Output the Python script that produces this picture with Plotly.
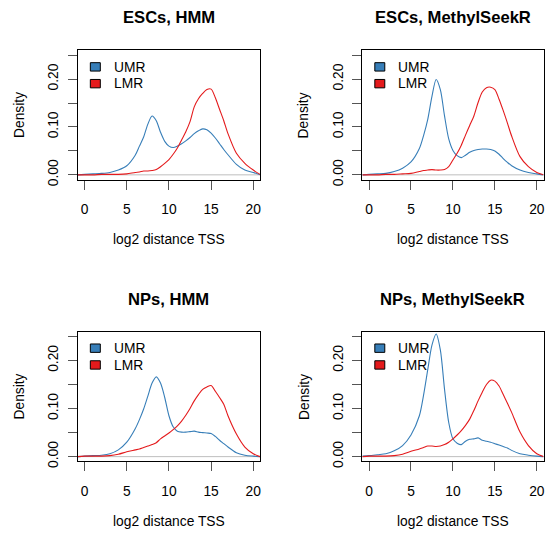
import plotly.graph_objects as go

W, H = 548, 539

panel_titles = ["ESCs, HMM", "ESCs, MethylSeekR", "NPs, HMM", "NPs, MethylSeekR"]
series_names = ["UMR", "LMR"]
series_colors = ["#377EB8", "#E41A1C"]
x_label = "log2 distance TSS"
y_label = "Density"

x_tick_vals = [0, 5, 10, 15, 20]
y_tick_vals = [0, 0.05, 0.10, 0.15, 0.20, 0.25]
y_tick_text = ["0.00", "", "0.10", "", "0.20", ""]

# log2 distance grid (read positions)
dist = [-0.8, 0, 1, 2, 3, 4, 5, 6, 6.5, 7, 7.5, 8, 8.5, 9, 9.5, 10, 10.5, 11, 11.5,
        12, 12.5, 13, 13.5, 14, 14.5, 15, 15.5, 16, 16.5, 17, 18, 19, 20, 20.8]

esc_hmm_umr = [0.000, 0.001, 0.002, 0.003, 0.005, 0.010, 0.019, 0.041, 0.060, 0.079, 0.106, 0.123,
               0.113, 0.089, 0.070, 0.060, 0.057, 0.060, 0.065, 0.071, 0.078, 0.086, 0.092, 0.096,
               0.094, 0.087, 0.077, 0.065, 0.053, 0.042, 0.022, 0.010, 0.005, 0.000]
esc_hmm_lmr = [0.000, 0.000, 0.000, 0.001, 0.001, 0.001, 0.002, 0.005, 0.006, 0.008, 0.008, 0.009,
               0.011, 0.017, 0.024, 0.032, 0.043, 0.056, 0.073, 0.090, 0.111, 0.142, 0.159, 0.170,
               0.178, 0.179, 0.161, 0.137, 0.113, 0.086, 0.045, 0.024, 0.010, 0.001]

esc_msr_umr = [0.000, 0.001, 0.002, 0.003, 0.007, 0.014, 0.027, 0.055, 0.082, 0.116, 0.164, 0.199,
               0.178, 0.123, 0.075, 0.051, 0.040, 0.036, 0.041, 0.047, 0.051, 0.053, 0.054, 0.054,
               0.053, 0.050, 0.043, 0.034, 0.026, 0.019, 0.010, 0.005, 0.002, 0.000]
esc_msr_lmr = [0.000, 0.000, 0.000, 0.001, 0.001, 0.002, 0.003, 0.007, 0.009, 0.010, 0.011, 0.010,
               0.010, 0.011, 0.017, 0.031, 0.045, 0.062, 0.083, 0.103, 0.123, 0.151, 0.173, 0.182,
               0.183, 0.178, 0.158, 0.134, 0.108, 0.081, 0.038, 0.017, 0.005, 0.000]

np_hmm_umr = [0.000, 0.001, 0.002, 0.003, 0.006, 0.014, 0.030, 0.058, 0.077, 0.099, 0.126, 0.153,
              0.166, 0.153, 0.123, 0.085, 0.062, 0.053, 0.051, 0.051, 0.052, 0.053, 0.051, 0.050,
              0.049, 0.048, 0.042, 0.034, 0.027, 0.020, 0.008, 0.003, 0.001, 0.000]
np_hmm_lmr = [0.000, 0.001, 0.001, 0.001, 0.002, 0.005, 0.010, 0.014, 0.016, 0.019, 0.022, 0.025,
              0.029, 0.037, 0.043, 0.049, 0.056, 0.064, 0.074, 0.086, 0.100, 0.116, 0.129, 0.140,
              0.145, 0.148, 0.136, 0.123, 0.109, 0.085, 0.047, 0.020, 0.006, 0.000]

np_msr_umr = [0.001, 0.002, 0.004, 0.006, 0.012, 0.023, 0.045, 0.085, 0.128, 0.181, 0.232, 0.255,
              0.222, 0.140, 0.071, 0.037, 0.028, 0.025, 0.032, 0.036, 0.037, 0.039, 0.034, 0.032,
              0.030, 0.027, 0.024, 0.021, 0.018, 0.013, 0.006, 0.003, 0.001, 0.000]
np_msr_lmr = [0.000, 0.001, 0.001, 0.001, 0.002, 0.005, 0.011, 0.016, 0.019, 0.022, 0.022, 0.021,
              0.022, 0.025, 0.030, 0.037, 0.045, 0.054, 0.065, 0.078, 0.096, 0.116, 0.134, 0.150,
              0.159, 0.157, 0.147, 0.129, 0.111, 0.092, 0.051, 0.023, 0.006, 0.000]

panel_data = [
    (esc_hmm_umr, esc_hmm_lmr),
    (esc_msr_umr, esc_msr_lmr),
    (np_hmm_umr, np_hmm_lmr),
    (np_msr_umr, np_msr_lmr),
]

# plot boxes in pixels: (left, top, right, bottom)
boxes = [(78, 51, 260.5, 182), (363, 51, 544.5, 182),
         (78, 336, 260.5, 467.5), (363, 336, 544.5, 467.5)]

FONT = "Liberation Sans, Arial, Helvetica, sans-serif"
FS = 13.8

def px(x):
    return x / W

def py(y):
    return 1 - y / H

fig = go.Figure()
layout = dict(
    width=W, height=H, margin=dict(l=0, r=0, t=0, b=0),
    paper_bgcolor="white", plot_bgcolor="white", showlegend=False,
    font=dict(family=FONT, size=FS, color="black"),
)
shapes = []
annotations = []

for i, (box, title, (umr, lmr)) in enumerate(zip(boxes, panel_titles, panel_data)):
    n = "" if i == 0 else str(i + 1)
    xa, ya = "x" + n, "y" + n
    l, t, r, b = box
    layout["xaxis" + n] = dict(
        domain=[px(l), px(r)], anchor=ya, range=[-0.8, 20.8],
        showline=True, linecolor="black", linewidth=1, mirror=True,
        ticks="outside", ticklen=9, tickcolor="#555555", tickwidth=1,
        tickvals=x_tick_vals, ticktext=[str(v) for v in x_tick_vals],
        showgrid=False, zeroline=False, ticklabelstandoff=8,
        tickfont=dict(size=FS, color="black", family=FONT),
    )
    layout["yaxis" + n] = dict(
        domain=[py(b), py(t)], anchor=xa, range=[-0.01, 0.26],
        showline=True, linecolor="black", linewidth=1, mirror=True,
        ticks="outside", ticklen=9, tickcolor="#555555", tickwidth=1,
        tickvals=y_tick_vals, ticktext=y_tick_text, tickangle=-90,
        showgrid=False, zeroline=False, ticklabelstandoff=4,
        tickfont=dict(size=FS, color="black", family=FONT),
    )
    # zero line (gray)
    shapes.append(dict(type="line", xref=xa + " domain", yref=ya, x0=0, x1=1, y0=0, y1=0,
                       line=dict(color="#BEBEBE", width=1), layer="below"))
    for name, vals, col in zip(series_names, (umr, lmr), series_colors):
        fig.add_trace(go.Scatter(x=dist, y=vals, mode="lines", name=name,
                                 line=dict(color=col, width=1.1, shape="spline", smoothing=0.8),
                                 xaxis=xa, yaxis=ya, cliponaxis=True))
    # title
    annotations.append(dict(text="<b>" + title + "</b>", xref="paper", yref="paper",
                            x=px((l + r) / 2), y=py(t - 33), xanchor="center", yanchor="middle",
                            showarrow=False, font=dict(size=16.6, family=FONT, color="black")))
    # axis titles
    annotations.append(dict(text=x_label, xref="paper", yref="paper",
                            x=px((l + r) / 2), y=py(b + 61), xanchor="center", yanchor="middle",
                            showarrow=False, font=dict(size=FS, family=FONT, color="black")))
    annotations.append(dict(text=y_label, xref="paper", yref="paper",
                            x=px(l - 58), y=py((t + b) / 2), xanchor="center", yanchor="middle",
                            textangle=-90, showarrow=False,
                            font=dict(size=FS, family=FONT, color="black")))
    # legend (R-style fill boxes)
    for j, (name, col) in enumerate(zip(series_names, series_colors)):
        y0 = t + 12.5 + j * 17
        shapes.append(dict(type="rect", xref="paper", yref="paper",
                           x0=px(l + 12.5), x1=px(l + 22.5), y0=py(y0), y1=py(y0 + 8.5),
                           fillcolor=col, line=dict(color="black", width=1)))
        annotations.append(dict(text=name, xref="paper", yref="paper",
                                x=px(l + 34), y=py(y0 + 4.5), xanchor="left", yanchor="middle",
                                showarrow=False, font=dict(size=FS, family=FONT, color="black")))

layout["shapes"] = shapes
layout["annotations"] = annotations
fig.update_layout(**layout)
fig.write_html("out.html")
